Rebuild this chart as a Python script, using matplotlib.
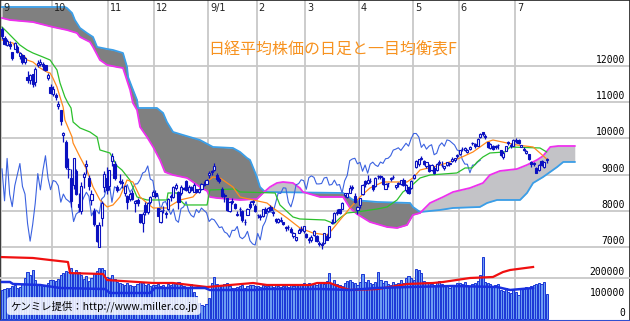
import numpy as np
import matplotlib.pyplot as plt
from matplotlib.transforms import blended_transform_factory

plt.rcParams['font.family'] = ['Noto Sans CJK JP', 'DejaVu Sans']

# x axis = trading day index, 0 = 2008-09-01
month_labels = ['9', '10', '11', '12', '9/1', '2', '3', '4', '5', '6', '7']
month_start = [0, 20, 42, 60, 81, 100, 119, 140, 161, 179, 201]

opens = [
    13030, 12780, 12590, 12620, 12380, 12480, 12530, 12280, 12300, 12120, 11700, 11620, 11790, 11560, 12030, 12050, 12050, 12030, 11660, 11420,
    11230, 11200, 10900, 10780, 10100, 9900, 9160, 8900, 8700, 9100, 8200, 8000, 8920, 9250, 8900, 8300, 8000, 7600, 7000, 7800, 8650, 8900,
    8680, 9380, 9280, 8650, 8800, 8760, 8500, 8400, 8330, 8500, 8210, 8290, 7900, 7650, 8150, 7960, 8250, 8420,
    8490, 8080, 7700, 8010, 7920, 8060, 8420, 8370, 8640, 8510, 8500, 8640, 8820, 8520, 8660, 8530, 8600, 8510, 8590, 8720, 8750,
    8990, 9100, 9120, 9000, 8880, 8600, 8420, 8340, 8000, 8260, 8200, 7880, 8050, 7990, 7680, 7890, 8190, 8250, 8130,
    7890, 7850, 7870, 8050, 7990, 8100, 7960, 7760, 7700, 7730, 7680, 7560, 7550, 7500, 7300, 7190, 7400, 7500, 7430,
    7350, 7180, 7180, 7330, 7300, 7100, 7070, 7100, 7310, 7280, 7650, 7700, 7950, 8050, 8050, 8440, 8380, 8500, 8660, 8400, 8030,
    8150, 8460, 8830, 8760, 8810, 8700, 8680, 8950, 8950, 8900, 8600, 8760, 8870, 8920, 8650, 8780, 8730, 8850, 8570, 8650, 8620,
    8900, 9200, 9280, 9430, 9370, 9230, 9270, 9130, 9190, 9120, 9310, 9270, 9170, 9260, 9300, 9380, 9410, 9520,
    9560, 9720, 9680, 9630, 9720, 9870, 9840, 9800, 10050, 10170, 10080, 9890, 9730, 9800, 9760, 9810, 9680, 9480, 9650, 9880, 9820, 9800,
    9950, 9950, 9760, 9710, 9590, 9560, 9340, 9310, 9190, 9130, 9380, 9200, 9420,
]
highs = [
    13072, 12820, 12745, 12690, 12390, 12660, 12590, 12400, 12320, 12260, 11860, 11790, 11790, 11960, 12160, 12190, 12110, 12040, 11800, 11490,
    11460, 11260, 11040, 10790, 10190, 9950, 9470, 9160, 9460, 9160, 8500, 8790, 9080, 9400, 9000, 8580, 8080, 7620, 7700, 8260, 9100, 9200,
    9130, 9600, 9370, 8700, 9020, 8890, 8720, 8440, 8520, 8580, 8310, 8340, 7920, 7960, 8240, 8250, 8420, 8570,
    8580, 8090, 8030, 8120, 8000, 8340, 8470, 8680, 8780, 8560, 8700, 8660, 8840, 8720, 8690, 8760, 8610, 8610, 8780, 8810, 8880,
    9100, 9130, 9330, 9050, 8940, 8660, 8500, 8350, 8260, 8340, 8210, 7990, 8110, 8020, 7780, 8070, 8260, 8300, 8180,
    7920, 7900, 8060, 8100, 8110, 8160, 8000, 7790, 7810, 7820, 7700, 7570, 7600, 7540, 7410, 7290, 7520, 7580, 7590,
    7380, 7290, 7340, 7480, 7330, 7170, 7140, 7390, 7370, 7580, 7760, 7960, 8050, 8060, 8230, 8500, 8500, 8700, 8710, 8480, 8130,
    8360, 8730, 8840, 8980, 8900, 8720, 8930, 8990, 8990, 8930, 8760, 8780, 8920, 8980, 8720, 8790, 8860, 8900, 8730, 8670, 8840,
    9010, 9390, 9440, 9500, 9400, 9360, 9280, 9280, 9250, 9310, 9400, 9370, 9250, 9360, 9350, 9480, 9470, 9560,
    9680, 9760, 9770, 9700, 9780, 9910, 9860, 10000, 10160, 10170, 10110, 9900, 9870, 9830, 9820, 9850, 9690, 9650, 9800, 9920, 9860, 9980,
    10010, 9970, 9830, 9770, 9670, 9560, 9370, 9340, 9210, 9290, 9400, 9350, 9470,
]
lows = [
    12750, 12590, 12540, 12480, 12170, 12460, 12360, 12190, 12060, 12060, 11540, 11500, 11430, 11450, 11960, 12000, 11900, 11860, 11610, 11230,
    11170, 11060, 10820, 10380, 9900, 9160, 8900, 8110, 8600, 8430, 7960, 7910, 8640, 9020, 8580, 8150, 7590, 7140, 6994, 7590, 8520, 8470,
    8580, 9250, 8850, 8520, 8730, 8640, 8410, 8040, 8270, 8300, 7970, 8140, 7650, 7410, 7880, 7920, 8190, 8400,
    8340, 7860, 7650, 7950, 7790, 8010, 8270, 8350, 8580, 8060, 8450, 8570, 8550, 8480, 8560, 8520, 8490, 8490, 8580, 8680, 8740,
    8900, 8980, 9100, 8810, 8770, 8390, 8240, 8000, 7980, 8180, 8050, 7860, 7860, 7700, 7600, 7880, 8060, 8150, 7970,
    7800, 7750, 7830, 7930, 7970, 7990, 7850, 7660, 7650, 7700, 7610, 7450, 7470, 7400, 7260, 7160, 7400, 7410, 7400,
    7240, 7120, 7140, 7300, 7150, 7020, 6950, 7080, 7190, 7260, 7630, 7690, 7880, 7920, 8040, 8390, 8340, 8490, 8580, 8220, 7900,
    8070, 8440, 8670, 8750, 8780, 8560, 8650, 8880, 8890, 8720, 8600, 8670, 8820, 8880, 8590, 8670, 8710, 8690, 8520, 8460, 8600,
    8880, 9180, 9230, 9390, 9260, 9190, 9060, 9100, 9030, 9100, 9270, 9200, 9130, 9230, 9230, 9350, 9360, 9450,
    9530, 9640, 9640, 9590, 9680, 9820, 9730, 9790, 10020, 10070, 9980, 9730, 9700, 9690, 9710, 9720, 9520, 9430, 9640, 9830, 9740, 9780,
    9880, 9850, 9760, 9640, 9560, 9390, 9200, 9230, 9040, 9110, 9240, 9190, 9310,
]
closes = [
    12834, 12609, 12689, 12557, 12212, 12625, 12400, 12346, 12102, 12214, 11609, 11749, 11489, 11920, 12090, 12115, 12006, 11893, 11743, 11260,
    11368, 11154, 10938, 10473, 10156, 9203, 9157, 8276, 9447, 8458, 8115, 8693, 9005, 9306, 8674, 8460, 7649, 7162, 7621, 8211, 9029, 8577,
    9114, 9521, 8899, 8583, 8837, 8809, 8693, 8238, 8462, 8328, 8273, 8208, 7703, 7910, 7966, 8213, 8373, 8512,
    8397, 7863, 8004, 8017, 7917, 8329, 8395, 8660, 8720, 8235, 8664, 8612, 8568, 8667, 8588, 8723, 8517, 8599, 8739, 8747, 8859,
    9043, 9080, 9239, 8876, 8836, 8413, 8438, 8023, 8230, 8256, 8065, 7901, 8051, 7745, 7682, 8061, 8106, 8251, 7994,
    7873, 7825, 8038, 7949, 8076, 8009, 7945, 7705, 7779, 7750, 7645, 7534, 7557, 7416, 7376, 7268, 7461, 7457, 7568,
    7280, 7229, 7290, 7433, 7173, 7086, 7054, 7376, 7198, 7569, 7704, 7949, 7972, 7945, 8215, 8488, 8480, 8636, 8626, 8236, 8109,
    8351, 8719, 8749, 8857, 8832, 8595, 8916, 8964, 8924, 8743, 8742, 8755, 8907, 8924, 8711, 8727, 8847, 8707, 8726, 8493, 8828,
    8977, 9385, 9432, 9451, 9298, 9340, 9093, 9265, 9038, 9290, 9344, 9264, 9225, 9347, 9310, 9438, 9451, 9522,
    9677, 9704, 9741, 9668, 9768, 9865, 9786, 9991, 10135, 10135, 10039, 9752, 9840, 9703, 9786, 9826, 9549, 9590, 9796, 9877, 9783, 9958,
    9939, 9876, 9816, 9680, 9647, 9420, 9291, 9287, 9050, 9261, 9270, 9344, 9395,
]
volume = [
    140000, 145000, 150000, 150000, 160000, 165000, 150000, 155000, 170000, 200000, 230000, 215000, 240000, 190000, 170000, 165000, 160000, 165000, 175000, 190000,
    190000, 185000, 195000, 215000, 225000, 235000, 230000, 250000, 225000, 240000, 230000, 215000, 195000, 210000, 185000, 200000, 225000, 235000, 250000, 250000, 240000, 205000,
    200000, 215000, 195000, 180000, 175000, 170000, 165000, 175000, 165000, 160000, 160000, 170000, 180000, 175000, 165000, 170000, 160000, 165000,
    165000, 170000, 160000, 165000, 155000, 170000, 165000, 175000, 170000, 180000, 165000, 160000, 155000, 150000, 170000, 130000, 110000, 80000, 70000, 65000, 75000,
    100000, 175000, 205000, 170000, 160000, 165000, 170000, 175000, 160000, 150000, 150000, 155000, 160000, 165000, 150000, 160000, 165000, 165000, 160000,
    160000, 155000, 165000, 160000, 160000, 165000, 155000, 165000, 160000, 155000, 160000, 165000, 155000, 165000, 160000, 170000, 165000, 170000, 175000,
    170000, 175000, 165000, 170000, 165000, 175000, 180000, 170000, 185000, 225000, 175000, 190000, 170000, 165000, 160000, 175000, 185000, 190000, 180000, 175000, 165000,
    180000, 220000, 180000, 190000, 175000, 170000, 180000, 230000, 190000, 175000, 185000, 170000, 165000, 180000, 170000, 175000, 190000, 175000, 200000, 210000, 200000,
    190000, 245000, 240000, 225000, 185000, 180000, 175000, 170000, 165000, 180000, 185000, 170000, 160000, 165000, 150000, 165000, 160000, 175000,
    175000, 170000, 180000, 165000, 160000, 170000, 175000, 185000, 215000, 300000, 180000, 175000, 170000, 160000, 165000, 170000, 140000, 135000, 150000, 130000, 125000, 145000,
    130000, 115000, 145000, 150000, 155000, 150000, 160000, 165000, 170000, 175000, 170000, 180000, 120000,
]

# ichimoku lines as (day, price) break points
tenkan = [(0, 12718), (2, 12663), (4.3, 12635), (5.1, 12525), (7, 12359), (9, 12249), (9.8, 12166), (12.1, 12110),
          (14.9, 11945), (17.6, 11834), (18.8, 11807), (19.9, 11669), (21.5, 11420), (22.7, 11144), (23.9, 10868),
          (24.6, 10508), (27.4, 10039), (27.8, 9873), (30.5, 9487), (33.2, 9127), (35.6, 8658), (38.3, 8299),
          (41.1, 8106), (43.4, 8161), (46.1, 8382), (48.9, 8851), (51.2, 8796), (54, 8382), (56.7, 8216), (59.1, 8078),
          (64.5, 8078), (69.6, 8299), (74.7, 8382), (78.6, 8713), (82.5, 8934), (85.3, 8907), (90.3, 8658), (93.1, 8382),
          (98.2, 8299), (103.6, 8216), (106, 8078), (111.5, 7802), (116.5, 7526), (121.6, 7387), (127.1, 7332),
          (129, 7470), (132.2, 7746), (136.1, 8078), (140, 8382), (143.9, 8630), (149, 8796), (158.4, 8796),
          (160.7, 8907), (163.5, 9128), (168.6, 9210), (174, 9321), (179.1, 9459), (184.2, 9625), (189.7, 9901),
          (192, 9956), (197.5, 9873), (201.4, 9818), (207.7, 9763), (210.4, 9597), (213, 9431)]
kijun = [(0, 13077), (2, 12939), (4.3, 12773), (7, 12580), (9.8, 12442), (12.1, 12359), (16, 12249), (18.8, 12166),
         (21.5, 11890), (22.7, 11530), (24.6, 11144), (25.8, 10978), (27, 10840), (27.8, 10453), (30.5, 10288),
         (34.4, 10177), (37.2, 10039), (38.3, 9680), (42.2, 9597), (45, 9238), (46.9, 9128), (50, 8851), (52.8, 8382),
         (56.7, 8299), (64.5, 8299), (64.9, 8492), (68.4, 8492), (69.6, 8299), (71.6, 8161), (80.2, 8161), (81.3, 8575),
         (91.1, 8603), (93.1, 8520), (106.8, 8492), (108.7, 8161), (113.8, 7829), (116.5, 7774), (126.3, 7746),
         (128.3, 7691), (129.8, 7636), (132.2, 7802), (134.9, 7940), (138.8, 7967), (146.7, 8050), (150.6, 8106),
         (154.5, 8299), (156.8, 8520), (159.6, 8658), (163.5, 8907), (167.4, 8989), (177.9, 9045), (181.1, 9183),
         (183.8, 9183), (185.8, 9348), (188.1, 9487), (190.8, 9597), (196.7, 9625), (198.7, 9763), (210.4, 9735),
         (213, 9625)]
senkou_a = [(0, 13326), (3.1, 13271), (12.1, 13215), (19.9, 13077), (25.4, 12994), (29.3, 12911), (30.5, 12801),
            (34.4, 12663), (35.6, 12525), (38.3, 12166), (41.1, 12028), (45, 11972), (47.3, 11945), (50.1, 11337),
            (51.2, 10978), (52.8, 10785), (54, 10315), (56.7, 10039), (59.1, 9763), (61.8, 9404), (63.7, 9072),
            (66.9, 8989), (72.4, 8907), (74.7, 8796), (77.4, 8658), (80.2, 8548), (81.3, 8382), (84.1, 8354),
            (93.1, 8299), (99.7, 8327), (102.1, 8492), (104.8, 8658), (107.5, 8768), (109.9, 8796), (113.8, 8768),
            (116.5, 8630), (117.7, 8520), (124.4, 8382), (133.4, 8382), (136.1, 8078), (138.8, 7912), (143.9, 7691),
            (150.6, 7553), (154.5, 7526), (158.4, 7608), (160.7, 7885), (163.5, 7940), (167.4, 8216), (172.5, 8382),
            (176.4, 8520), (183, 8630), (188.1, 8768), (190.8, 8989), (194.7, 9100), (201.4, 9155), (205.3, 9266),
            (209.2, 9404), (211.6, 9514), (214.4, 9763), (217.5, 9790), (224, 9790)]
senkou_b = [(0, 13630), (24.6, 13630), (25.4, 13602), (27.4, 13464), (28.5, 13271), (30.5, 13050), (33.2, 12911),
            (35.6, 12801), (37.2, 12525), (41.1, 12470), (43.4, 12442), (47.3, 12359), (48.9, 11972), (49.3, 11696),
            (50.8, 11420), (52.8, 11061), (53.2, 10840), (60.6, 10840), (63, 10702), (64.5, 10453), (66.9, 10177),
            (70.8, 10094), (77.4, 9956), (82.5, 9763), (90.3, 9735), (93.1, 9625), (95.8, 9459), (97, 9404),
            (99.7, 8934), (100.9, 8658), (102.9, 8520), (133.4, 8492), (137.3, 8299), (146.7, 8244), (159.6, 8216),
            (160.7, 8106), (163.5, 7967), (171.3, 8023), (176.4, 8078), (186.9, 8106), (189.7, 8216), (193.6, 8299),
            (202.6, 8299), (205.3, 8492), (207.7, 8768), (211.6, 8934), (217.1, 9210), (219.5, 9349), (224, 9349)]

# volume averages as (day, shares)
vol_avg_red = [(0, 302000), (12.1, 297600), (18.8, 287800), (25.8, 278000), (26.6, 224000), (39.5, 219500),
               (41.1, 190000), (59.1, 175600), (66.9, 175600), (80.2, 156000), (98.2, 175600), (103.6, 165900),
               (120.5, 165900), (123.2, 175600), (128.3, 175600), (132.2, 156000), (136.1, 141500), (146.7, 146000),
               (151.7, 156000), (158.4, 170700), (168.6, 175600), (172.5, 180500), (183, 200000), (192, 204900),
               (195.9, 229000), (198.7, 239000), (207.7, 253700)]
vol_avg_blue = [(0, 180500), (3.1, 180500), (4.3, 170700), (14.9, 165900), (22.7, 151200), (40.3, 146300),
                (42.2, 126800), (57.9, 126800), (59.8, 151200), (79.4, 151200), (81.3, 141500), (98.9, 141500),
                (102.9, 146300), (124.4, 146300), (136.1, 141500), (146.7, 151200), (159.6, 156100), (176.4, 161000),
                (193.6, 156100), (198.7, 141500), (207.7, 151200)]

price_ticks = [7000, 8000, 9000, 10000, 11000, 12000]
volume_ticks = [0, 100000, 200000]

title = '日経平均株価の日足と一目均衡表F'
credit = 'ケンミレ提供：http://www.miller.co.jp'

# ---------------------------------------------------------------
fig = plt.figure(figsize=(6.3, 3.21), dpi=100)
ax = fig.add_axes([0, 0, 1, 1])
vax = fig.add_axes([0, 0, 1, 1], sharex=ax)
vax.patch.set_alpha(0)

ax.set_xlim(-0.78, 245.6)
ax.set_ylim(4956, 13823)
vax.set_ylim(-9756, 1556000)

grid_c = '#c8c8c8'
for p in price_ticks:
    ax.axhline(p, color=grid_c, lw=1.3, zorder=1)
for m in month_start:
    ax.axvline(m - 0.45, color=grid_c, lw=1.3, zorder=1)
vax.axhline(200000, color=grid_c, lw=1.3, zorder=1)

# cloud: light where span A is on top, dark where span B is on top
gx = np.arange(0, 224.01, 0.25)
sa = np.interp(gx, [d for d, _ in senkou_a], [v for _, v in senkou_a])
sb = np.interp(gx, [d for d, _ in senkou_b], [v for _, v in senkou_b])
top = np.maximum(sa, sb)
ax.fill_between(gx, sb, top, color='#c3c3c7', lw=0, zorder=2)
ax.fill_between(gx, sa, top, color='#808080', lw=0, zorder=2)
ax.plot(*zip(*senkou_b), color='#3a9ee8', lw=1.3, zorder=3)
ax.plot(*zip(*senkou_a), color='#ee30ee', lw=1.3, zorder=3)

days = np.arange(len(closes))
# chikou span: closes drawn 26 days back
ax.plot(days[26:] - 26, closes[26:], color='#3b62e0', lw=0.8, zorder=3)
ax.plot(*zip(*kijun), color='#2cc02c', lw=0.9, zorder=4)
ax.plot(*zip(*tenkan), color='#ff8a1c', lw=0.9, zorder=4)

# candles
blue = '#0a10c0'
o = np.array(opens)
c = np.array(closes)
ax.vlines(days, lows, highs, color=blue, lw=0.9, zorder=5)
face = np.where(c >= o, 'white', blue)
ax.bar(days, np.maximum(np.abs(c - o), 10), bottom=np.minimum(o, c), width=0.85,
       color=face, edgecolor=blue, lw=0.8, zorder=6)

# volume
vax.bar(days, volume, width=0.85, color='#6d9cf2', edgecolor='#1a36d6', lw=0.7, zorder=2)
vax.plot(*zip(*vol_avg_red), color='#f01010', lw=1.6, zorder=3)
vax.plot(*zip(*vol_avg_blue), color='#1a30e0', lw=1.8, zorder=3)

# labels
tr = blended_transform_factory(ax.transAxes, ax.transData)
for p in price_ticks:
    ax.text(0.992, p + 25, str(p), transform=tr, ha='right', va='bottom',
            fontsize=7, family='DejaVu Sans Mono', color='black', zorder=8)
vtr = blended_transform_factory(vax.transAxes, vax.transData)
for v in volume_ticks:
    vax.text(0.992, v + 3000, str(v), transform=vtr, ha='right', va='bottom',
             fontsize=7, family='DejaVu Sans Mono', color='black', zorder=8)
ttr = blended_transform_factory(ax.transData, ax.transAxes)
for lab, m in zip(month_labels, month_start):
    ax.text(m + 0.4, 0.992, lab, transform=ttr, ha='left', va='top',
            fontsize=7, family='DejaVu Sans', color='#222222', zorder=8)

fig.text(333 / 630, 1 - 50 / 321, title, ha='center', va='center',
         fontsize=11.5, color='#f7921f', zorder=10)
fig.text(10 / 630, 1 - 306 / 321, credit, ha='left', va='center', fontsize=7.5,
         color='black', zorder=10,
         bbox=dict(boxstyle='round,pad=0.3', fc='white', ec='none', alpha=0.85))

for a in (ax, vax):
    a.set_xticks([])
    a.set_yticks([])
for s in ('top', 'left', 'right'):
    ax.spines[s].set_color('#202020')
    ax.spines[s].set_linewidth(1.2)
ax.spines['bottom'].set_color('#3050d0')
ax.spines['bottom'].set_linewidth(1.5)
for s in vax.spines.values():
    s.set_visible(False)

fig.savefig('out.png', dpi=100)
